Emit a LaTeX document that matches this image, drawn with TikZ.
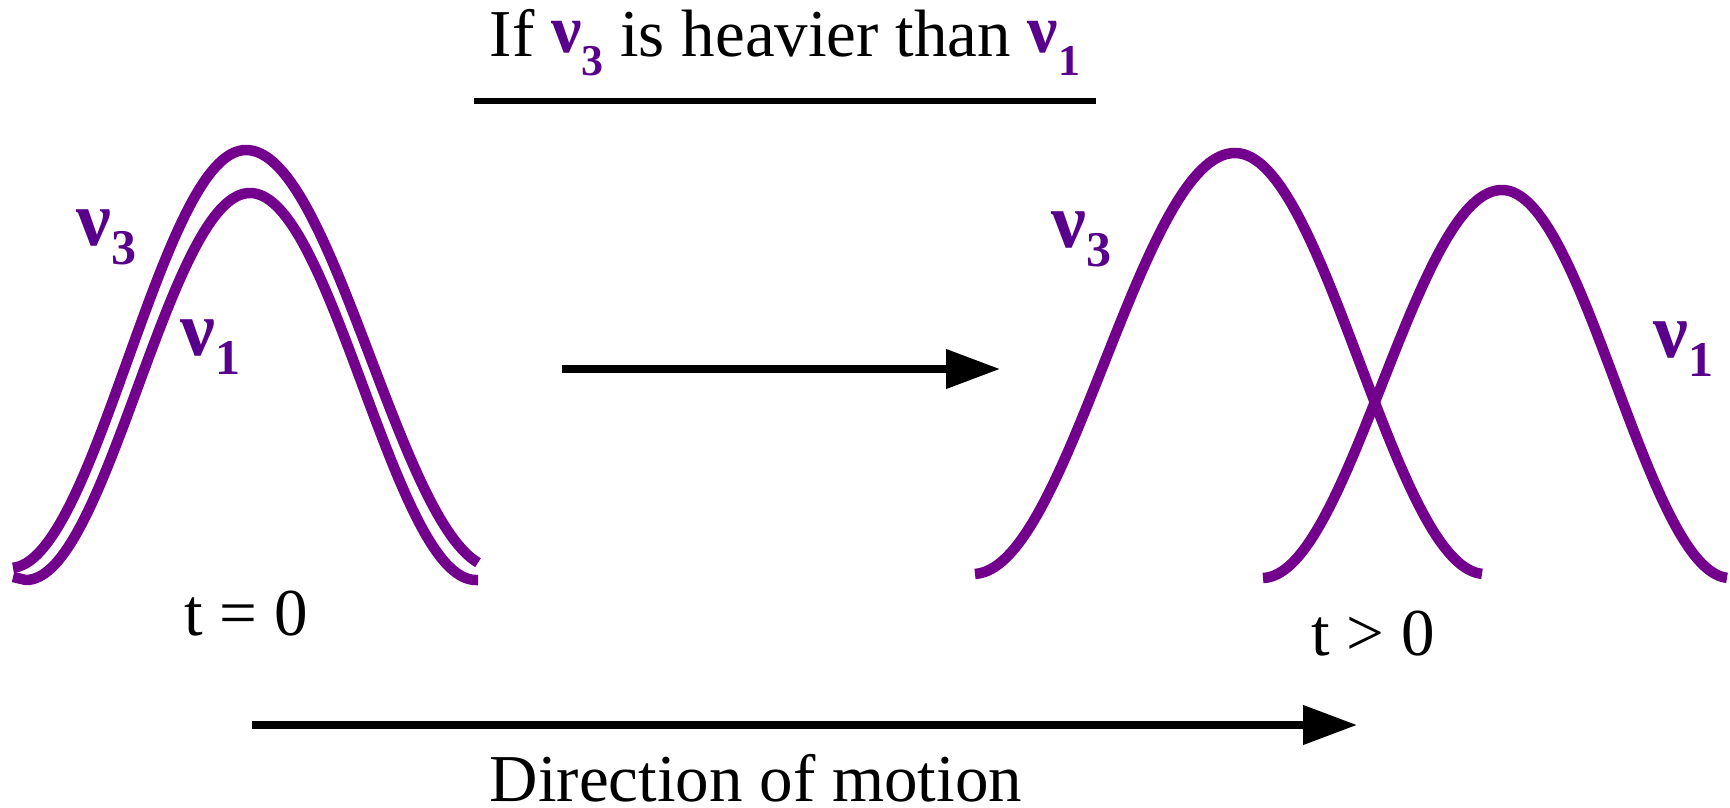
\documentclass[tikz,border=0pt]{standalone}
\usepackage{fontspec}
\setmainfont{Liberation Serif}
\usetikzlibrary{arrows.meta}
\definecolor{curvecol}{RGB}{115,0,140}
\definecolor{nutext}{RGB}{88,0,140}
\newcommand{\nulab}[1]{{\color{nutext}\fontsize{78}{80}\selectfont\bfseries ν\raisebox{-19pt}{\fontsize{50}{52}\selectfont #1}}}
\newcommand{\nutitle}[1]{{\color{nutext}\bfseries\raisebox{4pt}{\fontsize{68}{70}\selectfont ν}\raisebox{-18pt}{\fontsize{44}{46}\selectfont #1}}}
\tikzset{
  bump/.style={draw=curvecol, line width=10.5pt, line cap=butt, line join=round},
  bigtext/.style={font=\fontsize{67}{72}\selectfont, inner sep=0pt},
  motion/.style={line width=7.5pt, -{Triangle[length=54pt,width=38pt]}},
}
\begin{document}
\begin{tikzpicture}[x=1pt,y=-1pt]
\useasboundingbox (0,0) rectangle (1730,808);
% title
\node[bigtext, anchor=base] (title) at (785,57) {If \nutitle{3} is heavier than \nutitle{1}};
\coordinate (ul1) at (474,101);
\coordinate (ul2) at (1096,101);
\draw[line width=6pt] (ul1) -- (ul2);
% left bumps (t = 0)
\draw[bump] plot[domain=13:246, samples=70] (\x, {568 - 209*(1+cos((\x-246)/236*180))})
  -- plot[domain=246:478, samples=70] (\x, {568 - 209*(1+cos((\x-246)/250*180))});
\draw[bump] (13,577) -- plot[domain=26:250, samples=70] (\x, {580 - 193.5*(1+cos((\x-250)/224*180))})
  -- plot[domain=250:476, samples=70] (\x, {580 - 193.5*(1+cos((\x-250)/226*180))}) -- (478,580);
\node[inner sep=0pt, anchor=base west] (l3) at (76,245) {\nulab{3}};
\node[inner sep=0pt, anchor=base west] (l1) at (180,355) {\nulab{1}};
\node[bigtext, anchor=base] (t0) at (246,635) {t = 0};
% middle arrow
\coordinate (m1) at (562,369);
\coordinate (m2) at (1000,369);
\draw[motion] (m1) -- (m2);
% right bumps (t > 0)
\draw[bump] plot[domain=975:1235, samples=80] (\x, {574 - 210.5*(1+cos((\x-1235)/262*180))})
  -- plot[domain=1235:1482, samples=80] (\x, {574 - 210.5*(1+cos((\x-1235)/250*180))});
\draw[bump] plot[domain=1263:1502, samples=80] (\x, {578 - 194*(1+cos((\x-1502)/240*180))})
  -- plot[domain=1502:1727, samples=80] (\x, {578 - 194*(1+cos((\x-1502)/228*180))});
\node[inner sep=0pt, anchor=base west] (r3) at (1051,247) {\nulab{3}};
\node[inner sep=0pt, anchor=base west] (r1) at (1653,357) {\nulab{1}};
\node[bigtext, anchor=base] (tg) at (1373,655) {t > 0};
% bottom arrow
\coordinate (b1) at (252,725);
\coordinate (b2) at (1357,725);
\draw[motion] (b1) -- (b2);
\node[bigtext, anchor=base] (dir) at (756,801) {Direction of motion};
\end{tikzpicture}
\end{document}
